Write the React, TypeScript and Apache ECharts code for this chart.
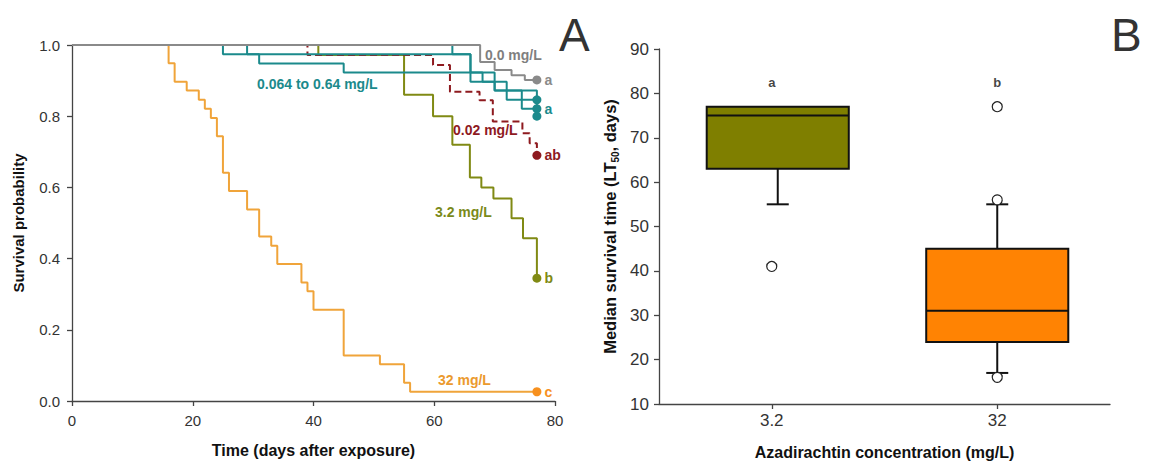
import React, { useEffect, useRef } from "react";
import * as echarts from "echarts";

// ---------- Panel A data (Kaplan-Meier curves) ----------
const grayDays = [0, 67.6, 70, 72.8, 75, 77];
const grayProb = [1, 0.952, 0.93, 0.915, 0.902, 0.902];

const tealADays = [0, 25, 31, 45, 66, 70, 77];
const tealAProb = [1, 0.974, 0.948, 0.923, 0.897, 0.872, 0.846];
const tealBDays = [0, 29, 66, 68, 72, 77];
const tealBProb = [1, 0.974, 0.923, 0.897, 0.846, 0.821];
const tealCDays = [0, 63, 66, 70, 74.5, 77];
const tealCProb = [1, 0.974, 0.923, 0.872, 0.821, 0.8];

const redDays = [0, 39, 59.8, 62.6, 67.5, 69.7, 74.6, 75.8, 77];
const redProb = [1, 0.972, 0.944, 0.869, 0.845, 0.785, 0.752, 0.724, 0.69];

const oliveDays = [0, 40.8, 55, 59.8, 63, 65.9, 67.8, 69.8, 72.8, 74.7, 77];
const oliveProb = [1, 0.972, 0.86, 0.8, 0.72, 0.628, 0.6, 0.569, 0.513, 0.457, 0.345];

const orangeDays = [0, 16, 17, 19, 21, 22, 23, 24, 25, 26, 29, 31, 33, 34, 38, 39, 40, 45, 51, 55, 56, 77];
const orangeProb = [1, 0.949, 0.897, 0.872, 0.846, 0.821, 0.795, 0.744, 0.641, 0.59, 0.538, 0.462, 0.436, 0.385, 0.333, 0.308, 0.256, 0.128, 0.103, 0.051, 0.026, 0.026];

const curveLabels = ["0.0 mg/L", "0.064 to 0.64 mg/L", "0.02 mg/L", "3.2 mg/L", "32 mg/L"];
const endLetters = ["a", "a", "ab", "b", "c"];

// ---------- Panel B data (box plots) ----------
const boxCats = ["3.2", "32"];
const boxLow = [55, 17];
const boxQ1 = [63, 24];
const boxMed = [75, 31];
const boxQ3 = [77, 45];
const boxHigh = [77, 55];
const outlierCat = [0, 1, 1, 1];
const outlierVal = [41, 16, 56, 77];
const boxLetters = ["a", "b"];
const letterY = 82.5;

const FONT = "'Liberation Sans', Arial, Helvetica, sans-serif";

const C_GRAY = "#8a8a8a";
const C_TEAL = "#1b8a8c";
const C_RED = "#8e1a1f";
const C_OLIVE = "#808a14";
const C_ORANGE = "#f0a43a";
const C_ORANGE_DOT = "#f7901e";

function pairs(d: number[], p: number[]) {
  return d.map((x, i) => [x, p[i]]);
}

export default function App() {
  const ref = useRef<HTMLDivElement>(null);
  useEffect(() => {
    const chart = echarts.init(ref.current!, null, { renderer: "svg" });

    const curves = [
      { d: orangeDays, p: orangeProb, color: C_ORANGE, dot: C_ORANGE_DOT, dash: false, letter: endLetters[4] },
      { d: oliveDays, p: oliveProb, color: C_OLIVE, dot: C_OLIVE, dash: false, letter: endLetters[3] },
      { d: redDays, p: redProb, color: C_RED, dot: C_RED, dash: true, letter: endLetters[2] },
      { d: tealADays, p: tealAProb, color: C_TEAL, dot: C_TEAL, dash: false, letter: "" },
      { d: tealBDays, p: tealBProb, color: C_TEAL, dot: C_TEAL, dash: false, letter: endLetters[1] },
      { d: tealCDays, p: tealCProb, color: C_TEAL, dot: C_TEAL, dash: false, letter: "" },
      { d: grayDays, p: grayProb, color: C_GRAY, dot: C_GRAY, dash: false, letter: endLetters[0] },
    ];

    const series: any[] = [];
    curves.forEach((c) => {
      series.push({
        type: "line",
        xAxisIndex: 0,
        yAxisIndex: 0,
        step: "end",
        data: pairs(c.d, c.p),
        showSymbol: false,
        symbol: "none",
        lineStyle: { color: c.color, width: 2, type: c.dash ? [7, 4] : "solid" },
        z: 3,
      });
    });
    curves.forEach((c) => {
      const n = c.d.length - 1;
      series.push({
        type: "scatter",
        xAxisIndex: 0,
        yAxisIndex: 0,
        data: [[c.d[n], c.p[n]]],
        symbol: "circle",
        symbolSize: 9,
        itemStyle: { color: c.dot, opacity: 1 },
        label: {
          show: !!c.letter,
          formatter: () => c.letter,
          position: "right",
          distance: 3,
          color: c.dot,
          opacity: 1,
          fontFamily: FONT,
          fontWeight: "bold",
          fontSize: 14,
        },
        z: 5,
      });
    });

    // Panel B boxes
    const boxData = boxCats.map((_, i) => [i, boxLow[i], boxQ1[i], boxMed[i], boxQ3[i], boxHigh[i]]);
    const boxColors = ["#7f7f00", "#ff8303"];
    series.push({
      type: "custom",
      xAxisIndex: 1,
      yAxisIndex: 1,
      data: boxData,
      renderItem: (params: any, api: any) => {
        const idx = api.value(0);
        const lo = api.coord([idx, api.value(1)]);
        const q1 = api.coord([idx, api.value(2)]);
        const md = api.coord([idx, api.value(3)]);
        const q3 = api.coord([idx, api.value(4)]);
        const hi = api.coord([idx, api.value(5)]);
        const band = api.size([1, 0])[0];
        const w = band * 0.63;
        const cx = lo[0] + (idx === 0 ? 6 : 0);
        const cap = 11;
        const ls = { stroke: "#111", lineWidth: 2 };
        return {
          type: "group",
          children: [
            { type: "line", shape: { x1: cx, y1: q1[1], x2: cx, y2: lo[1] }, style: ls },
            { type: "line", shape: { x1: cx - cap, y1: lo[1], x2: cx + cap, y2: lo[1] }, style: ls },
            { type: "line", shape: { x1: cx, y1: q3[1], x2: cx, y2: hi[1] }, style: ls },
            { type: "line", shape: { x1: cx - cap, y1: hi[1], x2: cx + cap, y2: hi[1] }, style: ls, invisible: api.value(5) === api.value(4) },
            {
              type: "rect",
              shape: { x: cx - w / 2, y: q3[1], width: w, height: q1[1] - q3[1] },
              style: { fill: boxColors[params.dataIndex], stroke: "#111", lineWidth: 2 },
            },
            { type: "line", shape: { x1: cx - w / 2, y1: md[1], x2: cx + w / 2, y2: md[1] }, style: ls },
          ],
        };
      },
      z: 3,
    });
    series.push({
      type: "scatter",
      xAxisIndex: 1,
      yAxisIndex: 1,
      data: outlierCat.map((c, i) => [c, outlierVal[i]]),
      symbol: "circle",
      symbolSize: 10,
      itemStyle: { color: "#fff", borderColor: "#222", borderWidth: 1.2, opacity: 1 },
      z: 6,
    });
    series.push({
      type: "scatter",
      xAxisIndex: 1,
      yAxisIndex: 1,
      data: boxCats.map((_, i) => [i, letterY]),
      symbolSize: 0,
      label: {
        show: true,
        position: "inside",
        formatter: (p: any) => boxLetters[p.dataIndex],
        color: "#111",
        fontFamily: FONT,
        fontWeight: "bold",
        fontSize: 13,
      },
      z: 6,
    });

    const axisLine = { show: true, lineStyle: { color: "#444", width: 1.3 } };
    const axisTick = { show: true, inside: false, length: 5, lineStyle: { color: "#444", width: 1.3 } };
    const axisLabel = { color: "#333", fontFamily: FONT, fontSize: 15 };
    const axisLabelB = { color: "#333", fontFamily: FONT, fontSize: 17 };
    const nameStyle = { color: "#111", fontFamily: FONT, fontSize: 15, fontWeight: "bold" };

    const annotation = (text: string, x: number, y: number, fill: string) => ({
      type: "text",
      x,
      y,
      style: { text, fill, font: `bold 14px ${FONT}`, align: "left", verticalAlign: "middle" },
      z: 10,
    });

    chart.setOption({
      animation: false,
      backgroundColor: "#fff",
      grid: [
        { left: 72, top: 45, width: 483, height: 356 },
        { left: 659, top: 49, width: 451, height: 355 },
      ],
      xAxis: [
        {
          type: "value",
          gridIndex: 0,
          min: 0,
          max: 80,
          interval: 20,
          splitLine: { show: false },
          axisLine,
          axisTick,
          axisLabel: { ...axisLabel, margin: 12 },
          name: "Time (days after exposure)",
          nameLocation: "middle",
          nameGap: 41,
          nameTextStyle: { ...nameStyle, fontSize: 16 },
        },
        {
          type: "category",
          gridIndex: 1,
          data: boxCats,
          boundaryGap: true,
          axisLine,
          axisTick: { ...axisTick, alignWithLabel: true },
          axisLabel: { ...axisLabelB, margin: 8 },
          name: "Azadirachtin concentration (mg/L)",
          nameLocation: "middle",
          nameGap: 40,
          nameTextStyle: { ...nameStyle, fontSize: 16 },
        },
      ],
      yAxis: [
        {
          type: "value",
          gridIndex: 0,
          min: 0,
          max: 1,
          interval: 0.2,
          splitLine: { show: false },
          axisLine,
          axisTick,
          axisLabel: { ...axisLabel, margin: 12, formatter: (v: number) => v.toFixed(1) },
          name: "Survival probability",
          nameLocation: "middle",
          nameGap: 46,
          nameTextStyle: nameStyle,
        },
        {
          type: "value",
          gridIndex: 1,
          min: 10,
          max: 90,
          interval: 10,
          splitLine: { show: false },
          axisLine,
          axisTick,
          axisLabel: { ...axisLabelB, margin: 10 },
          name: "{t|Median survival time (LT}{sub|50}{t|, days)}",
          nameLocation: "middle",
          nameGap: 39,
          nameTextStyle: {
            ...nameStyle,
            fontSize: 16.5,
            rich: {
              t: { fontFamily: FONT, fontSize: 16.5, fontWeight: "bold", color: "#111", lineHeight: 20, verticalAlign: "middle" },
              sub: { fontFamily: FONT, fontSize: 10, fontWeight: "bold", color: "#111", lineHeight: 20, verticalAlign: "bottom", padding: [6, 0, 0, 0] },
            },
          },
        },
      ],
      graphic: [
        annotation(curveLabels[0], 485, 55, "#7f7f7f"),
        annotation(curveLabels[1], 257, 84, C_TEAL),
        annotation(curveLabels[2], 453, 130, C_RED),
        annotation(curveLabels[3], 435, 212, "#7a8a1a"),
        annotation(curveLabels[4], 438, 380, "#eb9a2e"),
        {
          type: "text",
          x: 559,
          y: 35,
          style: { text: "A", fill: "#333", font: `46px ${FONT}`, align: "left", verticalAlign: "middle" },
        },
        {
          type: "text",
          x: 1111,
          y: 35,
          style: { text: "B", fill: "#333", font: `46px ${FONT}`, align: "left", verticalAlign: "middle" },
        },
      ],
      series,
    });
    return () => chart.dispose();
  }, []);
  return (
    <div
      ref={ref}
      style={{ position: "fixed", left: 0, top: 0, width: 1154, height: 466, background: "#fff" }}
    />
  );
}
